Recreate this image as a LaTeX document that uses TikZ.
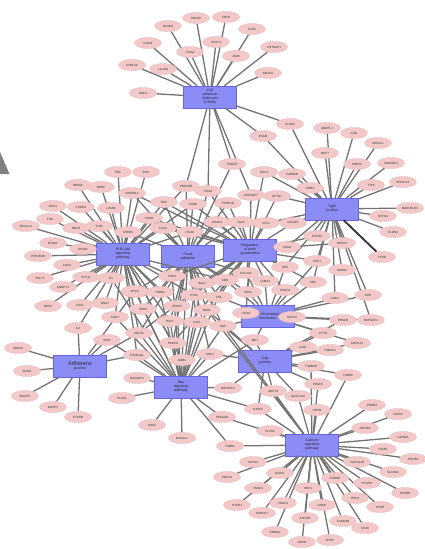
\documentclass[tikz,border=0pt]{standalone}
\usepackage{fontspec}
\setmainfont{Liberation Sans}
\usetikzlibrary{shapes.geometric,backgrounds}
\pgfdeclarelayer{links}
\pgfsetlayers{background,links,main}
\definecolor{genefill}{RGB}{243,200,200}
\definecolor{genedraw}{RGB}{236,184,186}
\definecolor{hubfill}{RGB}{140,140,246}
\definecolor{hubdraw}{RGB}{100,100,228}
\tikzset{%
  gene/.style={draw=genedraw,fill=genefill,shape=ellipse,minimum width=27,minimum height=11,inner sep=0,text=black!80,font=\fontsize{3}{3.4}\selectfont},
  hub/.style={draw=hubdraw,fill=hubfill,shape=rectangle,minimum width=53,minimum height=22,inner sep=1,align=center,text=black!85,font=\fontsize{3.6}{4}\selectfont},
  link/.style={draw=black!55,line width=1.3},
  tlink/.style={draw=black!78,line width=1.9}
}

\begin{document}
\begin{tikzpicture}[x=1pt,y=-1pt,every node/.style=gene]
    \useasboundingbox (0,0) rectangle (424,549);
    \fill[black!50] (0,152) -- (9.5,174) -- (0,174) -- cycle;
    \begin{pgfonlayer}{background}
    \path
      (210,97) node[hub] (cam) {Cell\\adhesion\\molecules\\(CAMs)}
      (332,209) node[hub] (tj) {Tight\\junction}
      (123,254) node[hub] (pi) {PI3K-Akt\\signaling\\pathway}
      (188,256) node[hub] (fa) {Focal\\adhesion}
      (250,250) node[hub] (rac) {Regulation\\of actin\\cytoskeleton}
      (268,316) node[hub] (ecm) {ECM-receptor\\interaction}
      (265,361) node[hub] (gap) {Gap\\junction}
      (80,366) node[hub] (aj) {{\fontsize{5.5}{6}\selectfont Adherens}\\junction}
      (181,387) node[hub] (ras) {Ras\\signaling\\pathway}
      (312,445) node[hub] (ca) {Calcium\\signaling\\pathway};
    \end{pgfonlayer}
    \path
      (168,26) node (c1) {NCAM1} (196,18) node (c2) {NRXN2} (226,17) node (c3) {CDH4}
      (252,29) node (c4) {CD34} (148,43) node (c5) {ICAM1} (190,52) node (c6) {ITGA4}
      (216,42) node (c7) {CD274} (236,56) node (c8) {JAM3} (274,47) node (c9) {CNTNAP1}
      (132,65) node (c10) {LRRC4C} (163,69) node (c11) {L1CAM} (268,73) node (c12) {NRXN1}
      (143,93) node (c13) {SDC3} (290,124) node (c14) {CLDN2} (263,136) node (c15) {ESAM};
    \path
      (327,128) node (t1) {AMOTL1} (354,133) node (t2) {CGN} (378,143) node (t3) {MICAL2}
      (325,153) node (t4) {MPP7} (357,164) node (t5) {PRKCZ} (391,163) node (t6) {ARHGEF2}
      (371,185) node (t7) {TJP3} (403,182) node (t8) {EPB41L3} (410,208) node (t9) {MARVELD3}
      (383,216) node (t10) {MYH14} (393,232) node (t11) {CLDN4} (382,257) node (t12) {PTEN}
      (292,174) node (t13) {PARD6B} (310,188) node (t14) {CRB3};
    \path
      (118,172) node (p1) {PRL} (146,172) node (p2) {EPO} (78,185) node (p3) {HBEGF}
      (101,187) node (p4) {BDNF} (132,193) node (p5) {CREB3L2} (53,206) node (p6) {IFNA1}
      (81,207) node (p7) {CHRM2} (111,208) node (p8) {LPAR3} (50,219) node (p9) {TNR}
      (26,226) node (p10) {BCL2L11} (76,228) node (p11) {NGFR} (99,226) node (p12) {TLR4}
      (149,218) node (p13) {ITGB8} (128,232) node (p14) {CREB5} (53,243) node (p15) {EFNA1}
      (83,249) node (p16) {EFNA5} (38,256) node (p17) {PPP2R2B} (67,265) node (p18) {FGF8}
      (40,278) node (p19) {FGF17} (63,287) node (p20) {ANGPT1} (86,277) node (p21) {KITLG}
      (111,278) node (p22) {IL6} (135,292) node (p23) {MDM2} (48,306) node (p24) {NOS3}
      (80,305) node (p25) {CSF1} (105,303) node (p26) {GNG7} (115,317) node (p27) {SGK1}
      (143,309) node (p28) {CDK6} (78,328) node (p29) {IL3};
    \path
      (186,186) node (m1) {PDGFRB} (208,191) node (m2) {ITGA2} (232,164) node (m3) {PDGFD}
      (164,202) node (m4) {EGF} (193,204) node (m5) {ITGB3} (228,203) node (m6) {PIP5K1B}
      (251,195) node (m7) {ARHGEF7} (277,196) node (m8) {ACTN1} (264,172) node (m9) {MYL9}
      (163,228) node (m11) {FLNA} (190,232) node (m12) {ITGA6} (217,222) node (m13) {PIK3R3}
      (241,222) node (m14) {VAV3} (266,223) node (m15) {CFL2} (293,223) node (m16) {IQGAP2}
      (172,276) node (m17) {PAK3} (202,283) node (m18) {RAC2} (225,280) node (m19) {KDR}
      (246,273) node (m20) {COL4A2} (265,281) node (m21) {LAMA4} (285,267) node (m22) {CRK}
      (160,292) node (m24) {THBS2} (194,295) node (m25) {PTK2} (219,297) node (m26) {FN1}
      (248,292) node (m27) {SOS1} (285,290) node (m28) {PDGFA} (177,306) node (m29) {VEGFC}
      (207,310) node (m30) {BRAF} (246,313) node (m31) {ITGA8} (292,317) node (m32) {GNA12}
      (170,321) node (m34) {RAF1} (197,322) node (m35) {CAV1} (223,326) node (m36) {HGF}
      (173,343) node (m38) {PRKCA} (255,340) node (m39) {MET} (210,354) node (m40) {SHC4}
      (182,360) node (m41) {GRB2} (317,236) node (m42) {MYH10} (342,243) node (m43) {ROCK2}
      (317,261) node (m44) {SSH1} (342,270) node (m45) {PARD3} (313,282) node (m46) {SRC}
      (335,298) node (m47) {LIMK1} (368,295) node (m48) {EZR} (343,320) node (m49) {PRKCB}
      (371,320) node (m50) {RAPGEF1} (323,333) node (m51) {CTTN} (357,343) node (m52) {MAPK10}
      (303,347) node (m53) {GJA1} (330,350) node (m54) {TUBA1A} (311,366) node (m55) {TUBB2B}
      (348,375) node (m56) {TUBB6} (318,384) node (m57) {PDGFC} (287,247) node (m58) {TIAM1}
      (273,391) node (m59) {ADCY8} (298,396) node (m60) {GUCY1A2} (135,291) node (m23) {MYLK};
    \path
      (18,348) node (a1) {SMAD3} (27,371) node (a2) {SNAI2} (25,396) node (a3) {BAIAP2}
      (53,407) node (a4) {WASF3} (78,417) node (a5) {PTPRB} (107,340) node (a6) {YES1}
      (139,333) node (a7) {CDC42} (137,355) node (a8) {CSNK2A1};
    \path
      (137,378) node (s1) {RASGRF2} (122,398) node (s2) {PLCE1} (152,425) node (s3) {SHC2}
      (182,438) node (s4) {RASAL1} (222,417) node (s5) {PRKACB} (230,446) node (s6) {TUBB3}
      (228,388) node (s7) {RAPGEF2} (258,409) node (s8) {NTRK2};
    \path
      (372,405) node (k1) {ERBB3} (398,414) node (k2) {TACR2} (365,428) node (k3) {ATP2B2}
      (403,437) node (k4) {GRIN2A} (383,449) node (k5) {TACR1} (413,459) node (k6) {ATP2B1}
      (357,462) node (k7) {CACNA1E} (393,472) node (k8) {SLC8A2} (367,483) node (k9) {PTGFR}
      (405,493) node (k10) {CCKBR} (380,507) node (k11) {TRHR} (365,528) node (k12) {CD38}
      (253,462) node (k13) {SPHK2} (227,477) node (k14) {PDE1A} (280,473) node (k15) {GNA11}
      (335,478) node (k16) {CHRM5} (308,488) node (k17) {HRH1} (355,498) node (k18) {ITPR3}
      (258,488) node (k19) {TNNC2} (283,503) node (k20) {VDAC3} (237,505) node (k21) {NTSR1}
      (322,505) node (k22) {GRM5} (262,513) node (k23) {CHRNA7} (305,518) node (k24) {ATP2B3}
      (343,521) node (k25) {CAMK2B} (275,532) node (k26) {EDNRA} (330,540) node (k27) {RYR3}
      (302,542) node (k28) {GRPR} (317,410) node (k29) {ITPKB} (270,431) node (k30) {PLCD3};
    \begin{pgfonlayer}{links}
    \draw[link] (cam) edge (c1) edge (c2) edge (c3) edge (c4) edge (c5) edge (c6) edge (c7) edge (c8)
      edge (c9) edge (c10) edge (c11) edge (c12) edge (c13) edge (c14) edge (c15) edge (m1) edge (m2)
      edge (m3) edge (m7);
    \draw[link] (tj) edge (t1) edge (t2) edge (t3) edge (t4) edge (t5) edge (t6) edge (t7) edge (t8)
      edge (t9) edge (t10) edge (t11) edge (t13) edge (t14) edge (c14) edge (c15) edge (m8) edge (m9)
      edge (m16) edge (m42) edge (m43) edge (m58) edge (m44) edge (m45) edge (m46) edge (m47)
      edge (m48) edge (m50) edge (m22) edge (m15);
    \draw[tlink] (tj) -- (t12);
    \draw[link] (pi) edge (p1) edge (p2) edge (p3) edge (p4) edge (p5) edge (p6) edge (p7) edge (p8)
      edge (p9) edge (p10) edge (p11) edge (p12) edge (p13) edge (p14) edge (p15) edge (p16) edge (p17)
      edge (p18) edge (p19) edge (p20) edge (p21) edge (p22) edge (p23) edge (p24) edge (p25) edge (p26)
      edge (p27) edge (p28) edge (p29) edge (m4) edge (m11) edge (m17) edge (m24) edge (m29) edge (m34)
      edge (m1) edge (m5) edge (m19) edge (m25) edge (m38) edge (a7) edge (a8) edge (m41) edge (m12);
    \draw[link] (fa) edge (p5) edge (p13) edge (p14) edge (p23) edge (p28) edge (m1) edge (m2) edge (m4)
      edge (m5) edge (m6) edge (m11) edge (m12) edge (m13) edge (m17) edge (m18) edge (m19) edge (m20)
      edge (m24) edge (m25) edge (m26) edge (m29) edge (m30) edge (m34) edge (m35) edge (m36) edge (m38)
      edge (m40) edge (m41) edge (a7) edge (m27) edge (m3) edge (m14);
    \draw[link] (rac) edge (m6) edge (m7) edge (m8) edge (m9) edge (m13) edge (m14) edge (m15) edge (m16)
      edge (m12) edge (m18) edge (m19) edge (m20) edge (m21) edge (m22) edge (m25) edge (m26) edge (m27)
      edge (m28) edge (m58) edge (m42) edge (m43) edge (m44) edge (m17) edge (m30) edge (m31) edge (m46)
      edge (m2) edge (m5) edge (p13) edge (m11) edge (a7) edge (m38) edge (m4) edge (p5);
    \draw[link] (ras) edge (s1) edge (s2) edge (s3) edge (s4) edge (s5) edge (s6) edge (s7) edge (s8)
      edge (a7) edge (a8) edge (a6) edge (m38) edge (m40) edge (m41) edge (m34) edge (m29) edge (m35)
      edge (m17) edge (m24) edge (p27) edge (p28) edge (p22) edge (m36) edge (m18) edge (m39) edge (m25)
      edge (m19) edge (m30) edge (m23);
    \draw[link] (aj) edge (a1) edge (a2) edge (a3) edge (a4) edge (a5) edge (a6) edge (a7) edge (a8)
      edge (p29) edge (m23);
    \draw[link] (ecm) edge (m31) edge (m32) edge (m27) edge (m20) edge (m21) edge (m22) edge (m28)
      edge (m39) edge (m46) edge (m47) edge (m49) edge (m36) edge (m26) edge (m19) edge (m44) edge (m48)
      edge (m50) edge (m51) edge (m52);
    \draw[link] (gap) edge (m39) edge (m53) edge (m54) edge (m55) edge (m56) edge (m57) edge (m59)
      edge (m60) edge (s7) edge (s8) edge (m51) edge (m52) edge (m49) edge (m36) edge (m40) edge (m30);
    \draw[link] (ca) edge (k1) edge (k2) edge (k3) edge (k4) edge (k5) edge (k6) edge (k7) edge (k8)
      edge (k9) edge (k10) edge (k11) edge (k12) edge (k13) edge (k14) edge (k15) edge (k16) edge (k17)
      edge (k18) edge (k19) edge (k20) edge (k21) edge (k22) edge (k23) edge (k24) edge (k25) edge (k26)
      edge (k27) edge (k28) edge (k29) edge (k30) edge (m57) edge (m60) edge (s8) edge (m59) edge (s5)
      edge (s6) edge (m56) edge (m36) edge (m30) edge (m55);
    \end{pgfonlayer}
  \end{tikzpicture}
\end{document}
